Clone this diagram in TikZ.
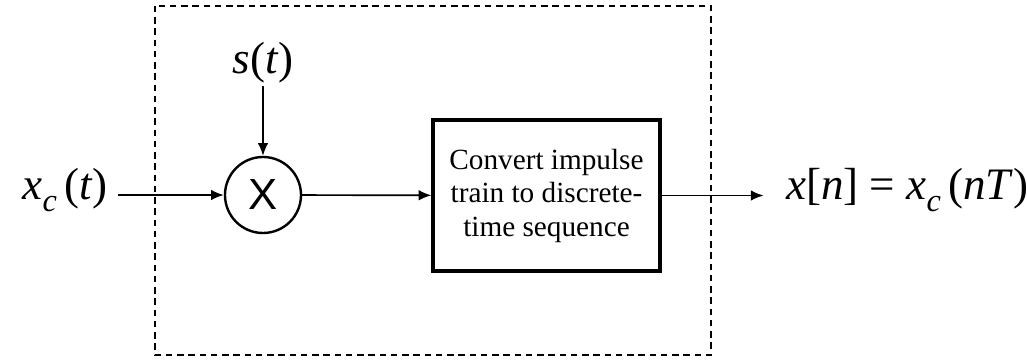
\documentclass[tikz,border=0pt]{standalone}
\usepackage{fontspec}
\setmainfont{Liberation Serif}
\newfontfamily\arialfont{Liberation Sans}
\usetikzlibrary{
	positioning,    % relative placement
	arrows.meta     % Latex tips
}

\newcommand{\iv}[1]{\textit{#1}}
\newcommand{\subc}{\raisebox{-8pt}{\fontsize{23}{23}\selectfont\itshape c}}

\begin{document}
\begin{tikzpicture}[x=0.025cm, y=-0.025cm,
		sig/.style={font=\fontsize{32}{32}\selectfont, inner xsep=5pt, inner ysep=2pt},
		block/.style={draw, line width=2.3pt, minimum width=5.675cm, minimum height=3.775cm,
			align=center, font=\fontsize{20.8}{23.8}\selectfont},
		mixer/.style={circle, draw, line width=1.7pt, minimum size=1.9cm, inner sep=0pt,
			font=\arialfont\fontsize{31}{31}\selectfont},
		wire/.style={-{Latex[length=9pt,width=7.5pt]}, line width=1.2pt},
		frame/.style={dash pattern=on 4.5pt off 3.5pt, line width=1.2pt}]
	\useasboundingbox (0,0) rectangle (1027,360);
	
	% --- Cornice tratteggiata (campionatore) ---
	\draw[frame] (155,6) rectangle (711,355);
	
	% --- Blocchi ---
	\node[mixer] (mult) at (263,195) {X};
	\node[block] (conv) at (546.5,195.5) {Convert impulse\\train to discrete-\\time sequence};
	
	% --- Segnali ---
	\node[sig, anchor=east, inner xsep=7pt] (xin) at (118,190) {\iv{x}\subc\,(\iv{t})};
	\node[sig] (st) at (263,63) {\iv{s}(\iv{t})};
	\node[sig, anchor=west] (xout) at (779,190) {\iv{x}[\iv{n}] = \iv{x}\subc\,(\iv{nT})};
	
	% --- Collegamenti ---
	\draw[wire] (xin.east |- mult) -- (mult);
	\draw[wire] (st) -- (mult);
	\draw[wire] (mult) -- (conv);
	\draw[wire, shorten >=11pt] (conv) -- (xout.west |- conv);
\end{tikzpicture}
\end{document}
